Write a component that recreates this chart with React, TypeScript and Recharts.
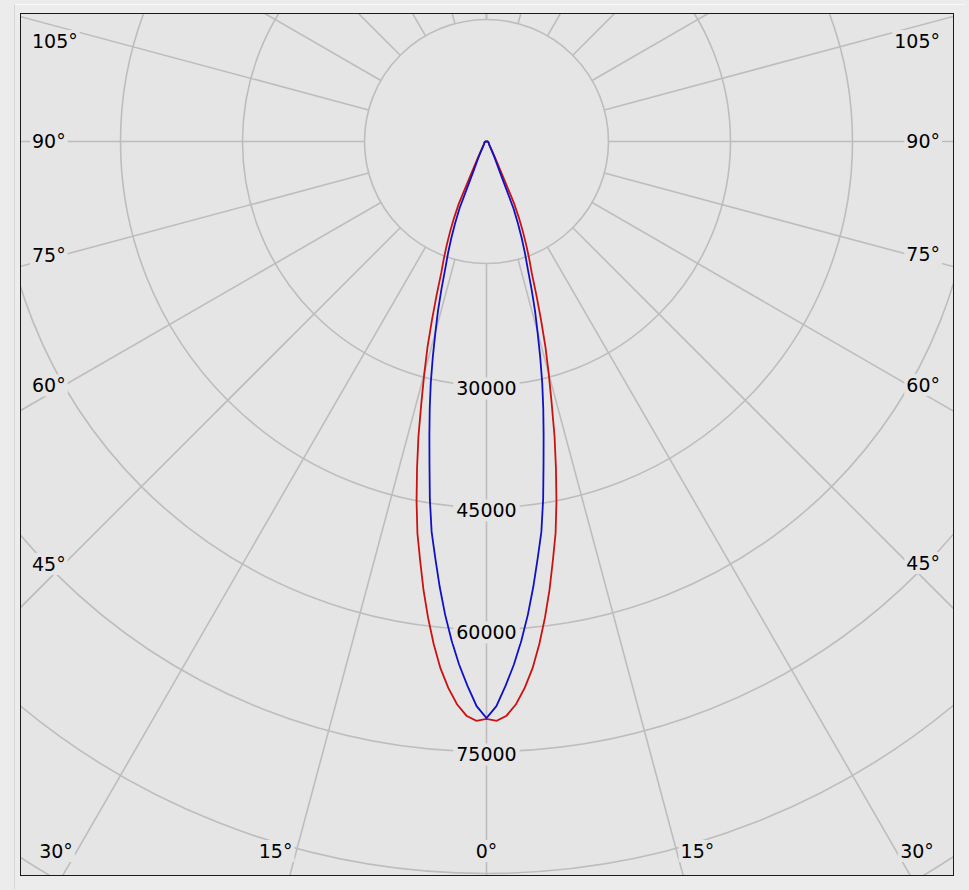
import React from 'react';
import { RadarChart, Radar, PolarGrid, PolarAngleAxis, PolarRadiusAxis } from 'recharts';

// Gamma angles (degrees from nadir) at which the intensities were read
const gammaAngles = [0, 1, 2, 3, 4, 5, 6, 7, 8, 9, 10, 11, 12, 13, 14, 15, 16, 17, 18, 19, 20, 21, 22, 23, 24, 25, 26, 27, 28, 30, 33, 36, 40, 45, 50, 60, 70, 80, 90];
// Red curve intensities (cd)
const redValues = [71000, 71250, 70640, 69280, 67350, 65000, 62130, 58980, 55660, 52160, 48910, 45070, 41070, 37190, 33090, 29570, 26310, 22930, 19830, 17090, 15360, 13650, 11950, 10200, 8360, 5160, 3690, 2830, 2210, 1480, 980, 740, 550, 430, 370, 310, 250, 180, 120];
// Blue curve intensities (cd)
const blueValues = [70880, 69440, 66980, 64400, 61500, 58390, 55050, 51630, 48470, 44520, 40370, 36800, 33570, 30460, 27280, 24260, 21630, 18890, 16370, 14530, 12690, 10770, 8840, 5160, 3690, 2950, 2460, 2090, 1720, 1230, 860, 680, 490, 430, 370, 310, 250, 180, 120];

// Grid spokes (signed gamma, negative = left half)
const angleTicks = [-180, -165, -150, -135, -120, -105, -90, -75, -60, -45, -30, -15, 0, 15, 30, 45, 60, 75, 90, 105, 120, 135, 150, 165, 180];
const angleLabelValues = [-105, -90, -75, -60, -45, -30, -15, 0, 15, 30, 45, 60, 75, 90, 105];
const radiusTicks = [15000, 30000, 45000, 60000, 75000, 90000, 105000];
const radiusLabelValues = [30000, 45000, 60000, 75000];

// Mirror the readings to both halves of the diagram
const rows: { angle: number; red: number; blue: number }[] = [];
for (let i = gammaAngles.length - 1; i >= 1; i--) {
  rows.push({ angle: -gammaAngles[i], red: redValues[i], blue: blueValues[i] });
}
for (let i = 0; i < gammaAngles.length; i++) {
  rows.push({ angle: gammaAngles[i], red: redValues[i], blue: blueValues[i] });
}

const FONT = '"DejaVu Sans", Verdana, sans-serif';
const FS = 19;
const BG = '#e5e5e5';
const GRID = '#bdbdbd';

const CHART_W = 932;
const CHART_H = 861;
const CX = 465.5;
const CY = 127.5;
const LBL_LEFT = 43;
const LBL_RIGHT = 887;
const LBL_BOTTOM = 837;
const LBL_TOP = 27;
const MIN_X = 11;
const MAX_X = 919;

const textWidth = (s: string) => {
  let w = 0;
  for (const ch of s) w += ch === '°' ? 0.5 * FS : 0.636 * FS;
  return w;
};

const AngleTick = (props: any) => {
  const { x, y, payload } = props;
  const v = payload?.value;
  if (!angleLabelValues.includes(v)) return <g />;
  const dx = x - CX;
  const dy = y - CY;
  const len = Math.hypot(dx, dy) || 1;
  const ux = dx / len;
  const uy = dy / len;
  let t = Infinity;
  let hitBottom = false;
  if (ux < -1e-6) t = Math.min(t, (LBL_LEFT - CX) / ux);
  if (ux > 1e-6) t = Math.min(t, (LBL_RIGHT - CX) / ux);
  if (uy > 1e-6) {
    const tb = (LBL_BOTTOM - CY) / uy;
    if (tb < t) {
      t = tb;
      hitBottom = true;
    }
  }
  const px = CX + ux * t;
  let py = CY + uy * t;
  if (py < LBL_TOP) py = LBL_TOP;
  const text = `${Math.abs(v)}°`;
  const w = textWidth(text);
  let left: number;
  if (Math.abs(ux) < 1e-3) {
    left = px - w / 2;
  } else if (ux < 0) {
    left = px - w - (hitBottom ? 4 : 0);
  } else {
    left = px + (hitBottom ? 4 : 0);
  }
  if (left < MIN_X) left = MIN_X;
  if (left + w > MAX_X) left = MAX_X - w;
  return (
    <g>
      <rect x={left - 2} y={py - 11} width={w + 4} height={22} fill={BG} />
      <text x={left} y={py} dy="0.36em" textAnchor="start" fontFamily={FONT} fontSize={FS} fill="#000">
        {text}
      </text>
    </g>
  );
};

const RadiusTick = (props: any) => {
  const { x, y, payload } = props;
  const v = payload?.value;
  if (!radiusLabelValues.includes(v)) return <g />;
  const text = String(v);
  const w = textWidth(text);
  const cyText = y + 3;
  return (
    <g>
      <rect x={x - w / 2 - 3} y={cyText - 11} width={w + 6} height={22} fill={BG} />
      <text x={x} y={cyText} dy="0.36em" textAnchor="middle" fontFamily={FONT} fontSize={FS} fill="#000">
        {text}
      </text>
    </g>
  );
};

export default function App() {
  return (
    <div style={{ position: 'absolute', left: 0, top: 0, width: 969, height: 890, background: '#ececec' }}>
      <div style={{ position: 'absolute', left: 14, top: 4, width: 950, height: 884, borderLeft: '1px solid #d6d6d6', borderTop: '1px solid #f8f8f8' }} />
      <div
        style={{
          position: 'absolute',
          left: 20,
          top: 13,
          width: 934,
          height: 863,
          boxSizing: 'border-box',
          border: '1px solid #1a1a1a',
          background: BG,
          overflow: 'hidden',
        }}
      >
        <RadarChart
          width={CHART_W}
          height={CHART_H}
          data={rows}
          cx={CX}
          cy={CY}
          innerRadius={122}
          outerRadius={854}
          startAngle={-270}
          endAngle={90}
          margin={{ top: 0, right: 0, bottom: 0, left: 0 }}
        >
          <PolarGrid gridType="circle" stroke={GRID} strokeWidth={1.6} />
          <PolarAngleAxis
            dataKey="angle"
            type="number"
            domain={[-180, 180]}
            ticks={angleTicks}
            axisLine={false}
            tickLine={false}
            tick={AngleTick}
          />
          <PolarRadiusAxis
            angle={-90}
            type="number"
            domain={[15000, 105000]}
            ticks={radiusTicks}
            allowDataOverflow
            axisLine={false}
            tickLine={false}
            tick={RadiusTick}
          />
          <Radar dataKey="red" stroke="#cc1111" strokeWidth={1.8} fill="none" fillOpacity={0} dot={false} isAnimationActive={false} />
          <Radar dataKey="blue" stroke="#1111c4" strokeWidth={1.8} fill="none" fillOpacity={0} dot={false} isAnimationActive={false} />
        </RadarChart>
      </div>
    </div>
  );
}
